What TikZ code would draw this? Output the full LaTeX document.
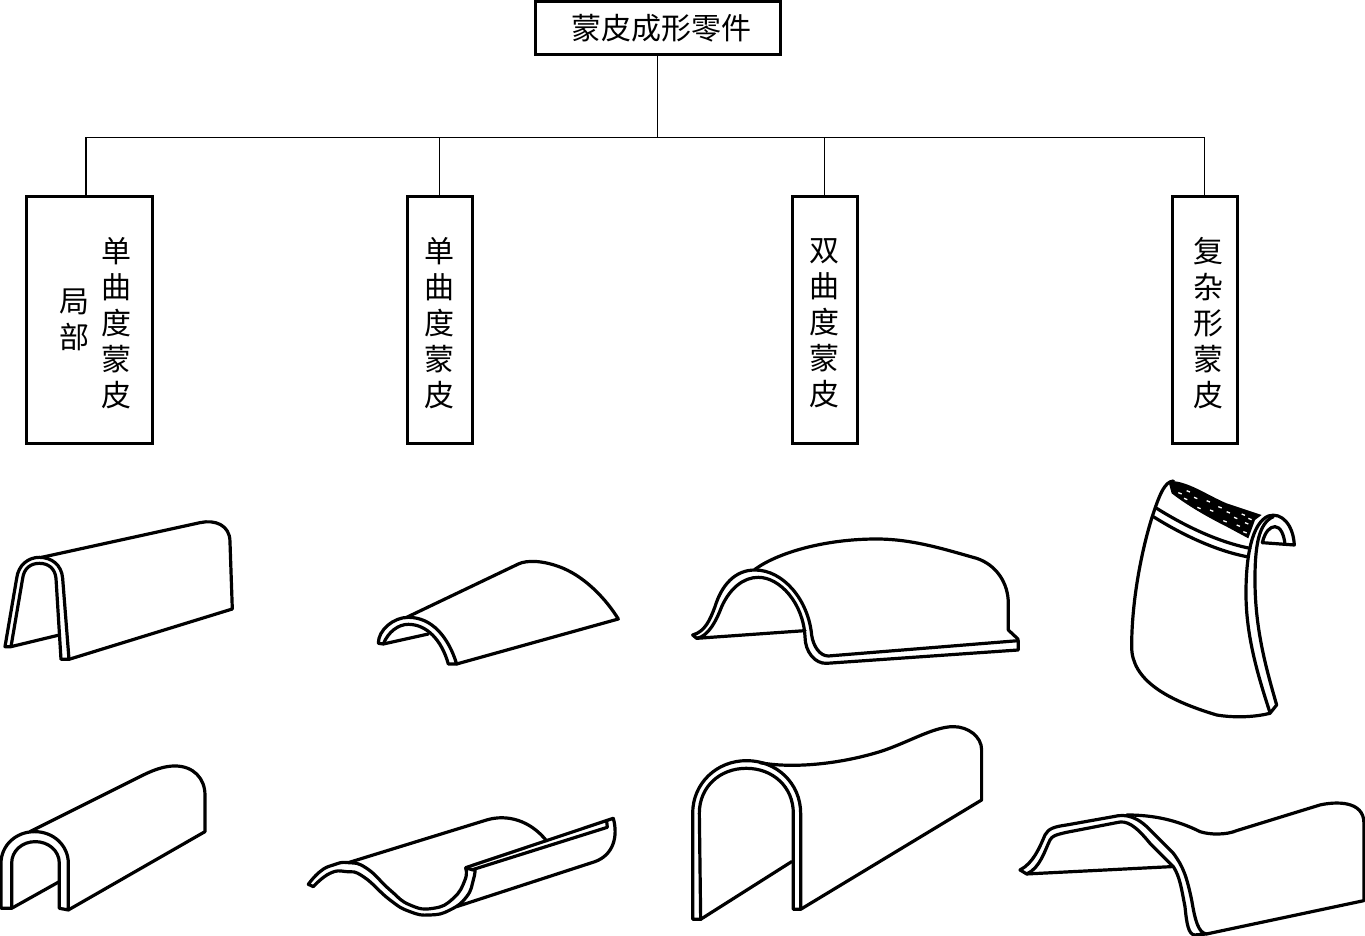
\documentclass[tikz,border=0pt]{standalone}
\usepackage{fontspec}
\setmainfont{Noto Sans CJK SC}
\usetikzlibrary{positioning}
\newcommand{\vstack}[2]{\raisebox{#1}[0pt][0pt]{\parbox[c]{30pt}{\centering #2}}}
\tikzset{
    box/.style={rectangle, draw=black, line width=3pt, inner sep=0pt, align=center, minimum width=65pt, minimum height=246pt, font=\fontsize{30}{36}\selectfont},
    conn/.style={draw=black, line width=1.2pt},
    part/.style={draw=black, line width=3.2pt, line join=round, line cap=round, smooth, tension=.85},
    sheet/.style 2 args={shift={(#1,#2)}, x=.3333pt, y=-.3333pt}
}
\begin{document}
\begin{tikzpicture}[x=1pt, y=-1pt]
    \useasboundingbox (0,0) rectangle (1365,936);
    \node[box, minimum width=245pt, minimum height=53pt] (root) at (657.5,28.5) {\hspace*{7pt}蒙皮成形零件};
    \node[box, minimum width=126pt] (local) at (89,320) {\hspace*{12pt}\vstack{-6.5pt}{局\\部}\hspace{12pt}\vstack{-9pt}{单\\曲\\度\\蒙\\皮}};
    \node[box] (single) at (439.5,320) {\vstack{-9pt}{单\\曲\\度\\蒙\\皮}};
    \node[box] (double) at (824.5,320) {\vstack{-9pt}{双\\曲\\度\\蒙\\皮}};
    \node[box] (complex) at (1204.5,320) {\hspace*{7pt}\vstack{-9pt}{复\\杂\\形\\蒙\\皮}};
    \coordinate (bus) at (657.5,137.5);
    \draw[conn] (root) -- (bus);
    \draw[conn] (bus) -| ([xshift=-3pt]local.north);
    \draw[conn] (bus) -| (single.north);
    \draw[conn] (bus) -| (double.north);
    \draw[conn] (bus) -| (complex.north);

    % local single curvature
    \begin{scope}[sheet={0}{500}]
        \draw[part] (15,440) -- (50,235) .. controls (55,195) and (85,172) .. (118,172) .. controls (155,172) and (185,195) .. (188,235) -- (207,478) -- (183,478) -- (168,235) .. controls (165,205) and (145,190) .. (118,190) .. controls (92,190) and (72,205) .. (68,235) -- (33,440) -- cycle;
        \draw[part] (33,440) -- (178,405);
        \draw[part] (125,172) -- (600,68) .. controls (645,58) and (690,75) .. (690,125) -- (697,327) -- (207,478);
        \draw[part] (3,1225) -- (3,1090) .. controls (3,1037) and (47,995) .. (104,995) .. controls (161,995) and (205,1037) .. (205,1090) -- (205,1230) -- (178,1225) -- (178,1090) .. controls (178,1052) and (145,1025) .. (106,1025) .. controls (67,1025) and (35,1052) .. (35,1090) -- (35,1225) -- cycle;
        \draw[part] (35,1225) -- (178,1145);
        \draw[part] (90,995) -- (430,825) .. controls (465,808) and (495,798) .. (525,798) .. controls (580,798) and (615,835) .. (615,885) -- (615,995) -- (205,1230);
    \end{scope}

    % single curvature
    \begin{scope}[sheet={300}{540}]
        \draw[part] (235,310) .. controls (235,270) and (280,232) .. (325,232) .. controls (395,232) and (445,290) .. (470,372) -- (445,372) .. controls (425,300) and (380,253) .. (325,253) .. controls (295,253) and (265,275) .. (250,312) -- cycle;
        \draw[part] (250,312) -- (385,282);
        \draw[part] (320,232) -- (655,72) .. controls (680,60) and (730,60) .. (790,85) .. controls (860,115) and (920,180) .. (955,237) -- (470,372);
        \draw[part] plot coordinates {(25,1033) (60,995) (100,975) (145,968) (200,985) (270,1050) (330,1095) (400,1105) (460,1075) (495,1020) (497,985)} -- (525,990) -- plot coordinates {(525,990) (520,1020) (500,1070) (450,1110) (390,1125) (330,1115) (270,1080) (190,1010) (140,995) (90,1000) (40,1040)} -- cycle;
        \draw[part] (145,968) -- (560,840) .. controls (620,822) and (690,840) .. (740,903);
        \draw[part] (497,983) -- (940,835);
        \draw[part] (515,990) -- (922,862) -- (920,843);
        \draw[part] (940,835) .. controls (955,890) and (940,945) .. (885,965) -- (470,1100);
    \end{scope}

    % double curvature
    \begin{scope}[sheet={680}{520}]
        \draw[part] (38,345) .. controls (75,335) and (90,300) .. (105,260) .. controls (125,195) and (165,150) .. (225,150) .. controls (310,150) and (385,240) .. (395,345) .. controls (400,380) and (420,408) .. (445,408) -- (1015,362) -- (1015,390) -- (440,430) .. controls (405,432) and (375,395) .. (375,350) .. controls (370,250) and (300,172) .. (235,172) .. controls (190,172) and (150,205) .. (125,260) .. controls (110,300) and (85,350) .. (50,355) -- cycle;
        \draw[part] (50,355) -- (375,332);
        \draw[part] (225,148) .. controls (290,100) and (430,57) .. (590,57) .. controls (700,57) and (800,90) .. (890,115) .. controls (950,135) and (985,190) .. (985,250) -- (985,330) -- (1015,358);
        \draw[part] (38,1198) -- (38,880) .. controls (38,790) and (110,722) .. (200,722) .. controls (290,722) and (362,790) .. (362,880) -- (362,1168) -- (340,1168) -- (340,880) .. controls (340,800) and (278,745) .. (199,745) .. controls (120,745) and (58,800) .. (58,880) -- (62,1198) -- cycle;
        \draw[part] (62,1198) -- (335,1025);
        \draw[part] (240,728) .. controls (330,745) and (470,735) .. (600,695) .. controls (680,670) and (760,620) .. (820,620) .. controls (865,620) and (905,650) .. (905,690) -- (905,840) -- (362,1168);
    \end{scope}

    % complex shape
    \begin{scope}[sheet={1010}{470}]
        \fill[black] (475,33) .. controls (530,30) and (590,75) .. (650,100) -- (755,135) -- (735,150) -- (715,205) -- (650,170) .. controls (590,140) and (530,105) .. (485,70) -- cycle;
        \foreach \fx/\fy in {505/68, 530/62, 522/85, 552/82, 562/112, 590/92, 600/120, 625/110, 640/152, 650/125, 672/142, 680/165, 695/132, 705/158, 700/185, 715/145} {
            \draw[white, line width=1.3pt] (\fx,\fy) -- ++(10,4);
        }
        \draw[part] (490,33) .. controls (465,35) and (450,70) .. (430,130) .. controls (400,220) and (365,380) .. (365,530) .. controls (365,630) and (470,690) .. (620,735) .. controls (680,745) and (740,740) .. (780,730) -- (800,705) .. controls (770,600) and (735,480) .. (735,330) .. controls (735,230) and (745,160) .. (790,140);
        \draw[part] (780,728) .. controls (745,620) and (708,500) .. (708,370) .. controls (708,260) and (725,160) .. (775,138);
        \draw[part] (775,138) .. controls (815,125) and (850,165) .. (853,225) -- (757,218);
        \draw[part] (757,218) .. controls (765,185) and (780,170) .. (795,170) .. controls (812,170) and (822,195) .. (825,222);
        \draw[part] (440,115) .. controls (520,165) and (620,215) .. (720,235);
        \draw[part] (430,140) .. controls (510,190) and (610,240) .. (710,260);
        \draw[part] (30,1200) .. controls (70,1180) and (90,1130) .. (105,1095) .. controls (115,1075) and (135,1070) .. (170,1065) -- (310,1040) .. controls (350,1030) and (385,1040) .. (430,1090) -- (490,1150) .. controls (520,1190) and (530,1220) .. (545,1290) .. controls (555,1350) and (565,1390) .. (590,1392) -- (555,1395) .. controls (535,1395) and (530,1360) .. (525,1310) .. controls (515,1260) and (510,1220) .. (490,1190) -- (420,1120) .. controls (375,1065) and (350,1050) .. (320,1058) -- (170,1087) .. controls (135,1095) and (127,1098) .. (120,1110) .. controls (105,1140) and (90,1195) .. (50,1212) -- cycle;
        \draw[part] (50,1212) -- (485,1190);
        \draw[part] (350,1035) .. controls (430,1035) and (500,1050) .. (570,1085) .. controls (600,1095) and (650,1095) .. (680,1082) -- (930,1005) .. controls (975,995) and (1062,990) .. (1062,1060) -- (1062,1292) -- (590,1392);
    \end{scope}
\end{tikzpicture}
\end{document}
